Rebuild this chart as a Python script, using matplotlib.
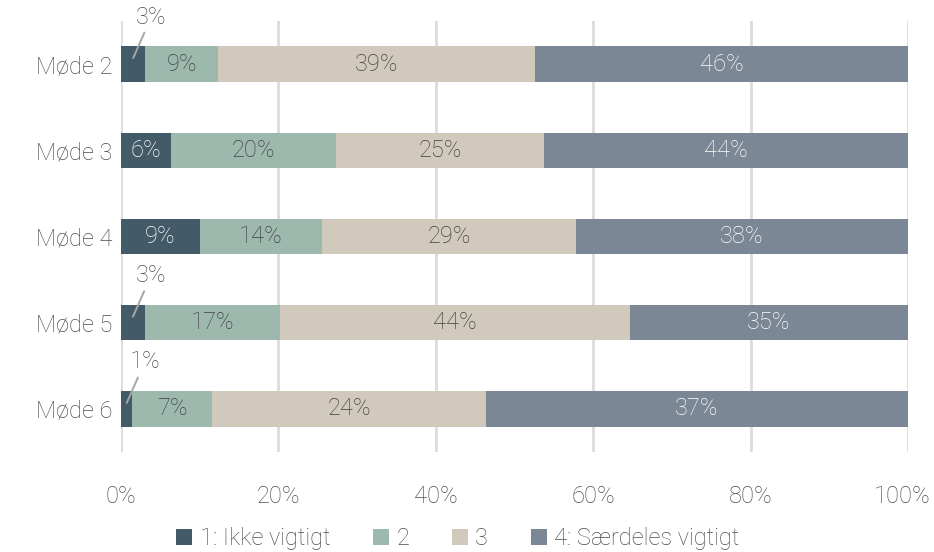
import matplotlib
matplotlib.use("Agg")
import matplotlib.pyplot as plt
import matplotlib.transforms as mtransforms
import numpy as np

plt.rcParams['font.family'] = ['Roboto', 'DejaVu Sans']
plt.rcParams['font.weight'] = 'light'

meetings = ["Møde 2", "Møde 3", "Møde 4", "Møde 5", "Møde 6"]
series = ["1: Ikke vigtigt", "2", "3", "4: Særdeles vigtigt"]
ikke_vigtigt = [3, 6, 9, 3, 1]
two = [9, 20, 14, 17, 7]
three = [39, 25, 29, 44, 24]
saerdeles = [46, 44, 38, 35, 37]

colors = ["#435a69", "#9db9ae", "#d2c9bd", "#7b8795"]
label_colors = ["#ffffff", "#404040", "#404040", "#ffffff"]
text_grey = "#4d4d4d"
fs = 17

values = np.array([ikke_vigtigt, two, three, saerdeles], dtype=float)
shares = values / values.sum(axis=0) * 100

fig = plt.figure(figsize=(9.34, 5.52), dpi=100)
ax = fig.add_axes([0.1296, 0.181, 0.8426, 0.781])

y = np.arange(len(meetings))
left = np.zeros(len(meetings))
for i, name in enumerate(series):
    ax.barh(y, shares[i], left=left, height=0.41, color=colors[i], label=name, zorder=2)
    for j in range(len(meetings)):
        cx = left[j] + shares[i][j] / 2
        txt = f"{int(values[i][j])}%"
        if shares[i][j] < 5:
            # small segment: label above with a leader line
            ax.annotate(txt, xy=(cx, y[j] - 0.07), xytext=(18, 41),
                        textcoords="offset pixels", ha="center", va="center",
                        fontsize=fs, color=text_grey,
                        arrowprops=dict(arrowstyle="-", color="#a6a6a6", lw=1.4,
                                        shrinkA=1, shrinkB=0))
        else:
            ax.text(cx, y[j], txt, ha="center", va="center", fontsize=fs,
                    color=label_colors[i])
    left += shares[i]

ax.set_xlim(0, 100)
ax.set_ylim(4.5, -0.5)
ax.set_yticks(y)
ax.set_yticklabels(meetings)
ax.set_xticks(range(0, 101, 20))
ax.set_xticklabels([f"{v}%" for v in range(0, 101, 20)])
ax.tick_params(length=0, labelsize=fs, labelcolor=text_grey)
ax.tick_params(axis="x", pad=24)
ax.tick_params(axis="y", pad=6)
last = ax.get_xticklabels()[-1]
last.set_transform(last.get_transform() + mtransforms.ScaledTranslation(-0.06, 0, fig.dpi_scale_trans))
ax.grid(axis="x", color="#dcdcdc", lw=2, zorder=0)
for s in ax.spines.values():
    s.set_visible(False)

fig.legend(loc="lower center", bbox_to_anchor=(0.49, -0.035), ncol=4, frameon=False,
           fontsize=fs, labelcolor=text_grey, handlelength=0.7, handleheight=0.7,
           handletextpad=0.3, columnspacing=1.8)

fig.savefig("out.png", dpi=100)
